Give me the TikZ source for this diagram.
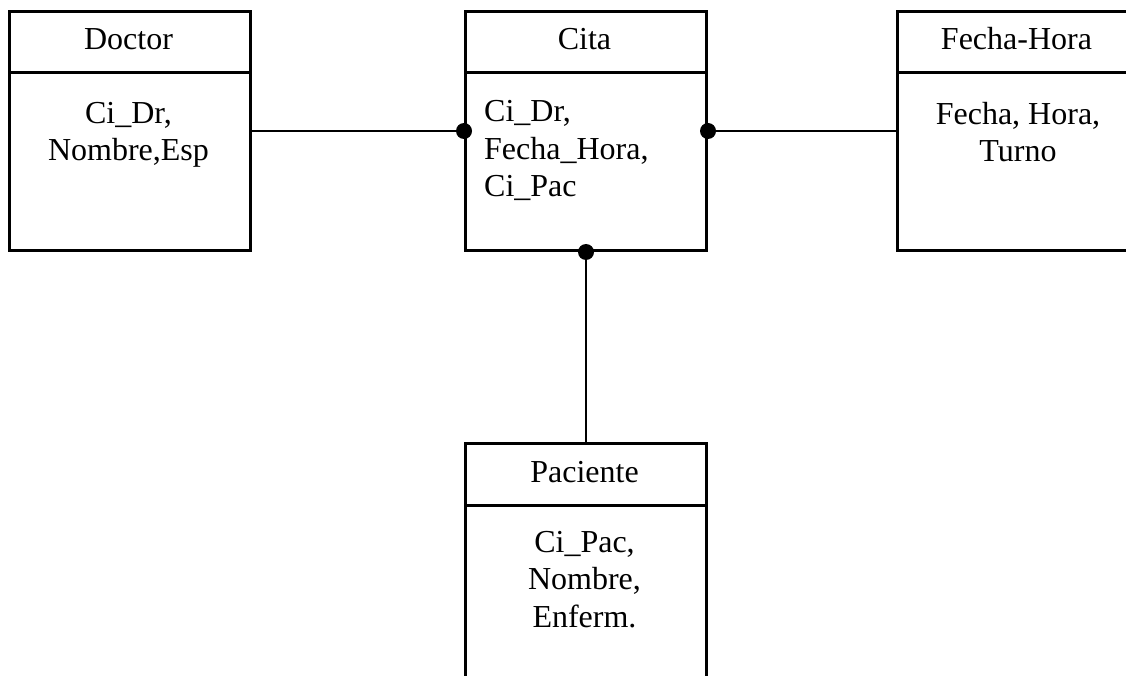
\documentclass[tikz,border=0pt]{standalone}
\usepackage{fontspec}
\setmainfont{Liberation Serif}
\begin{document}
\begin{tikzpicture}[x=1pt,y=-1pt,
  entity/.style={draw, line width=3pt, minimum width=241pt, minimum height=239pt,
    inner sep=0pt, anchor=north west},
  link/.style={line width=2pt},
  title/.style={font=\fontsize{32}{37}\selectfont, inner sep=0pt, anchor=base},
  attrs/.style={font=\fontsize{32}{37.5}\selectfont, inner sep=0pt, anchor=base},
  dot/.style={circle, fill=black, inner sep=0pt, minimum size=16pt}]
  \useasboundingbox (0,0) rectangle (1126,676);
  \clip (0,0) rectangle (1126,676);

  % entity boxes
  \node[entity] (doctor) at (8,10) {};
  \node[entity] (cita) at (464,10) {};
  \node[entity] (fecha) at (896,10) {};
  \node[entity] (paciente) at (464,442) {};

  % header separators
  \foreach \b in {doctor,cita,fecha,paciente}
    \draw[line width=3pt] ([yshift=-63pt]\b.north west) -- ([yshift=-63pt]\b.north east);

  % titles
  \node[title] (doctor-t) at (128.5,50) {Doctor};
  \node[title] (cita-t) at (584.5,50) {Cita};
  \node[title] (fecha-t) at (1016.5,50) {Fecha-Hora};
  \node[title] (paciente-t) at (584.5,482) {Paciente};

  % attributes (anchored on the baseline of the last line)
  \node[attrs, align=center] (doctor-a) at (128.5,161) {Ci\_Dr,\\Nombre,Esp};
  \node[attrs, align=left, anchor=base west] (cita-a) at (484,197) {Ci\_Dr,\\Fecha\_Hora,\\Ci\_Pac};
  \node[attrs, align=center] (fecha-a) at (1018,162) {Fecha, Hora,\\Turno};
  \node[attrs, align=center] (paciente-a) at (584.5,627) {Ci\_Pac,\\Nombre,\\Enferm.};

  % relationships
  \draw[link] (doctor.east) -- (cita.west);
  \draw[link] (cita.east) -- (fecha.west);
  \draw[link] (cita.south) -- (paciente.north);
  \node[dot] (d1) at (cita.west) {};
  \node[dot] (d2) at (cita.east) {};
  \node[dot] (d3) at (cita.south) {};
\end{tikzpicture}
\end{document}
